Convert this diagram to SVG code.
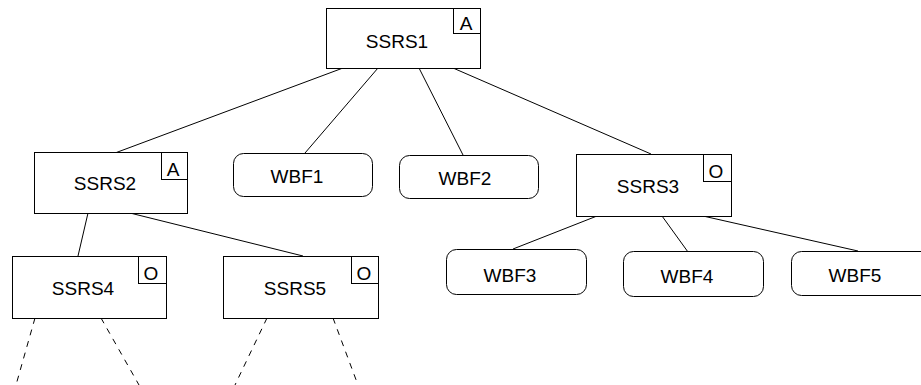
<svg xmlns="http://www.w3.org/2000/svg" width="921" height="385" viewBox="0 0 921 385">
<style>
.box{fill:#fff;stroke:#000;stroke-width:1}
.tag{fill:#fff;stroke:#000;stroke-width:1}
.t{font-family:"Liberation Sans",Arial,sans-serif;font-size:19px;fill:#000;text-anchor:middle}
.e{stroke:#000;stroke-width:1;fill:none}
.d{stroke:#000;stroke-width:1;fill:none;stroke-dasharray:6 6}
</style>
<rect width="921" height="385" fill="#fff"/>
<g id="connectors">
<line class="e" x1="343" y1="68" x2="115" y2="153"/>
<line class="e" x1="378" y1="68" x2="305" y2="153"/>
<line class="e" x1="419" y1="68" x2="463" y2="155"/>
<line class="e" x1="453" y1="68" x2="651" y2="154"/>
<line class="e" x1="88" y1="213" x2="78" y2="256"/>
<line class="e" x1="130" y1="213" x2="303" y2="256"/>
<line class="e" x1="597" y1="216" x2="513" y2="249"/>
<line class="e" x1="662" y1="216" x2="688" y2="252"/>
<line class="e" x1="703" y1="216" x2="858" y2="251"/>
<line class="d" x1="35" y1="318" x2="16" y2="385"/>
<line class="d" x1="101" y1="318" x2="139" y2="385"/>
<line class="d" x1="267" y1="318" x2="235" y2="385"/>
<line class="d" x1="333" y1="318" x2="358" y2="385"/>
</g>
<g id="SSRS1">
<rect class="box" x="326.5" y="8.5" width="154" height="60"/>
<rect class="tag" x="453.5" y="8.5" width="27" height="25"/>
<text class="t" x="397" y="48">SSRS1</text>
<text class="t" x="466" y="30">A</text>
</g>
<g id="SSRS2">
<rect class="box" x="34.5" y="152.5" width="153" height="61"/>
<rect class="tag" x="161.5" y="152.5" width="26" height="27"/>
<text class="t" x="105" y="190">SSRS2</text>
<text class="t" x="173" y="176">A</text>
</g>
<g id="WBF1">
<rect class="box" x="233.5" y="153.5" width="139" height="43" rx="10"/>
<text class="t" x="297" y="183">WBF1</text>
</g>
<g id="WBF2">
<rect class="box" x="399.5" y="155.5" width="139" height="43" rx="10"/>
<text class="t" x="465" y="185">WBF2</text>
</g>
<g id="SSRS3">
<rect class="box" x="576.5" y="154.5" width="155" height="62"/>
<rect class="tag" x="703.5" y="154.5" width="28" height="27"/>
<text class="t" x="648" y="193">SSRS3</text>
<text class="t" x="716" y="178">O</text>
</g>
<g id="SSRS4">
<rect class="box" x="12.5" y="256.5" width="154" height="62"/>
<rect class="tag" x="138.5" y="256.5" width="28" height="27"/>
<text class="t" x="83" y="295">SSRS4</text>
<text class="t" x="151" y="280">O</text>
</g>
<g id="SSRS5">
<rect class="box" x="223.5" y="256.5" width="155" height="62"/>
<rect class="tag" x="351.5" y="256.5" width="27" height="27"/>
<text class="t" x="295" y="295">SSRS5</text>
<text class="t" x="364" y="280">O</text>
</g>
<g id="WBF3">
<rect class="box" x="446.5" y="249.5" width="140" height="45" rx="10"/>
<text class="t" x="510" y="282">WBF3</text>
</g>
<g id="WBF4">
<rect class="box" x="623.5" y="251.5" width="140" height="45" rx="10"/>
<text class="t" x="687" y="283">WBF4</text>
</g>
<g id="WBF5">
<rect class="box" x="791.5" y="251.5" width="140" height="44" rx="10"/>
<text class="t" x="855" y="282">WBF5</text>
</g>
</svg>
